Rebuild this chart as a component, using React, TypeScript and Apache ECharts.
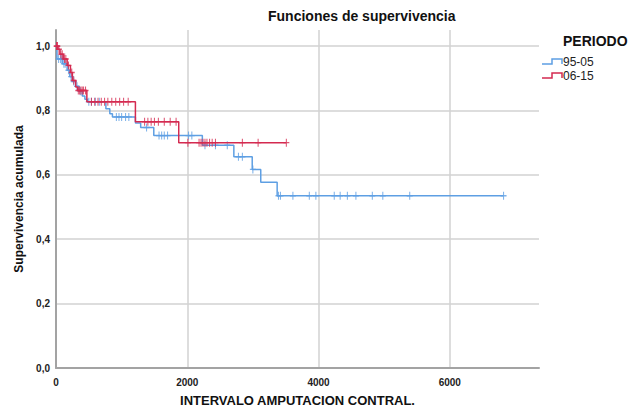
import React, { useEffect, useRef } from "react";
import * as echarts from "echarts";

// Kaplan-Meier step data (time, cumulative survival)
const blueTimes = [0, 15, 100, 170, 210, 250, 300, 350, 400, 440, 480, 760, 820, 860, 1210, 1290, 1490, 2230, 2710, 2990, 3120, 3370];
const blueSurv = [1.0, 0.96, 0.945, 0.925, 0.905, 0.89, 0.875, 0.86, 0.845, 0.835, 0.827, 0.805, 0.79, 0.78, 0.761, 0.747, 0.722, 0.692, 0.656, 0.617, 0.577, 0.535];
const blueCensored = [40, 70, 90, 120, 140, 190, 230, 270, 320, 370, 500, 540, 600, 660, 920, 960, 1000, 1060, 1110, 1380, 1570, 1610, 1650, 1700, 2020, 2070, 2270, 2430, 2610, 2780, 2840, 3000, 3390, 3420, 3610, 3860, 3960, 4240, 4330, 4440, 4570, 4820, 4980, 5390, 6820];

const redTimes = [0, 30, 60, 110, 170, 220, 250, 300, 330, 470, 1210, 1870];
const redSurv = [1.0, 0.99, 0.975, 0.96, 0.94, 0.918, 0.893, 0.873, 0.862, 0.827, 0.765, 0.7];
const redCensored = [8, 15, 22, 45, 75, 95, 130, 150, 190, 240, 270, 340, 360, 380, 400, 420, 450, 540, 590, 640, 690, 740, 790, 850, 910, 970, 1030, 1100, 1350, 1400, 1450, 1500, 1560, 1650, 1740, 1830, 2010, 2180, 2210, 2240, 2270, 2300, 2340, 2380, 2430, 2840, 3080, 3510];

const groupNames = ["95-05", "06-15"];
const xTicks = [0, 2000, 4000, 6000];
const yTicks = [0, 0.2, 0.4, 0.6, 0.8, 1.0];

const BLUE = "#5e9fe3";
const RED = "#d42a50";
const FONT = "'Liberation Sans', Arial, sans-serif";

function survAt(times: number[], surv: number[], t: number) {
  let s = surv[0];
  for (let i = 0; i < times.length; i++) if (times[i] <= t) s = surv[i];
  return s;
}

function stepLine(times: number[], surv: number[], censored: number[]) {
  const pts = times.map((t, i) => [t, surv[i]]);
  const last = censored[censored.length - 1];
  pts.push([last, survAt(times, surv, last)]);
  return pts;
}

const plusSymbol = "path://M0,5L10,5M5,0L5,10";

export default function App() {
  const ref = useRef<HTMLDivElement>(null);
  useEffect(() => {
    if (!ref.current) return;
    const chart = echarts.init(ref.current, undefined, { renderer: "svg" });
    const labelFmt = (v: number) =>
      yTicks.some((t) => Math.abs(t - v) < 1e-6) ? v.toFixed(1).replace(".", ",") : "";
    chart.setOption({
      animation: false,
      title: {
        text: "Funciones de supervivencia",
        left: 268,
        top: 9,
        padding: 0,
        textStyle: { fontSize: 14, fontWeight: "bold", color: "#111", fontFamily: FONT },
      },
      grid: { left: 56, right: 94, top: 30, bottom: 42 },
      xAxis: {
        type: "value",
        min: 0,
        max: 7360,
        interval: 2000,
        name: "INTERVALO AMPUTACION CONTRAL.",
        nameLocation: "middle",
        nameGap: 26,
        nameTextStyle: { fontSize: 13, fontWeight: "bold", color: "#111", fontFamily: FONT },
        axisLine: { lineStyle: { color: "#a3a3a3", width: 2 } },
        axisTick: { show: false },
        axisLabel: {
          fontSize: 10,
          fontWeight: "bold",
          color: "#222",
          fontFamily: FONT,
          margin: 9,
          showMaxLabel: false,
          formatter: (v: number) => (xTicks.includes(v) ? String(v) : ""),
        },
        splitLine: { show: true, showMinLine: false, showMaxLine: false, lineStyle: { color: "#d2d2d2", width: 1.5 } },
      },
      yAxis: {
        type: "value",
        min: 0,
        max: 1.05,
        interval: 0.2,
        name: "Supervivencia acumulada",
        nameLocation: "middle",
        nameGap: 30,
        nameTextStyle: { fontSize: 12, fontWeight: "bold", color: "#111", fontFamily: FONT },
        axisLine: { show: true, lineStyle: { color: "#a3a3a3", width: 2 } },
        axisTick: { show: false },
        axisLabel: {
          fontSize: 10,
          fontWeight: "bold",
          color: "#222",
          fontFamily: FONT,
          margin: 6,
          showMaxLabel: false,
          formatter: labelFmt,
        },
        splitLine: { show: true, showMinLine: false, showMaxLine: false, lineStyle: { color: "#d2d2d2", width: 1.5 } },
      },
      series: [
        {
          name: groupNames[0],
          type: "line",
          step: "end",
          symbol: "none",
          data: stepLine(blueTimes, blueSurv, blueCensored),
          lineStyle: { color: BLUE, width: 1.5 },
          z: 2,
        },
        {
          name: groupNames[0] + " cens",
          type: "scatter",
          symbol: plusSymbol,
          symbolSize: [6, 8],
          data: blueCensored.map((t) => [t, survAt(blueTimes, blueSurv, t)]),
          itemStyle: { color: "rgba(0,0,0,0)", borderColor: BLUE, borderWidth: 1.2 },
          z: 3,
        },
        {
          name: groupNames[1],
          type: "line",
          step: "end",
          symbol: "none",
          data: stepLine(redTimes, redSurv, redCensored),
          lineStyle: { color: RED, width: 1.5 },
          z: 4,
        },
        {
          name: groupNames[1] + " cens",
          type: "scatter",
          symbol: plusSymbol,
          symbolSize: [6, 8],
          data: redCensored.map((t) => [t, survAt(redTimes, redSurv, t)]),
          itemStyle: { color: "rgba(0,0,0,0)", borderColor: RED, borderWidth: 1.2 },
          z: 5,
        },
      ],
      graphic: [
        {
          type: "text",
          left: 563,
          top: 34,
          style: { text: "PERIODO", font: `bold 14px ${FONT}`, fill: "#111" },
        },
        {
          type: "polyline",
          shape: { points: [[542, 64], [552, 64], [552, 59], [562, 59], [562, 64]] },
          style: { stroke: BLUE, fill: null, lineWidth: 1.5 },
        },
        {
          type: "text",
          left: 563,
          top: 56,
          style: { text: groupNames[0], font: `12px ${FONT}`, fill: "#222" },
        },
        {
          type: "polyline",
          shape: { points: [[542, 78], [552, 78], [552, 73], [562, 73], [562, 78]] },
          style: { stroke: RED, fill: null, lineWidth: 1.5 },
        },
        {
          type: "text",
          left: 563,
          top: 70,
          style: { text: groupNames[1], font: `12px ${FONT}`, fill: "#222" },
        },
      ],
    });
    return () => chart.dispose();
  }, []);
  return (
    <div
      ref={ref}
      style={{ position: "absolute", left: 0, top: 0, width: 633, height: 412, background: "#fff" }}
    />
  );
}
